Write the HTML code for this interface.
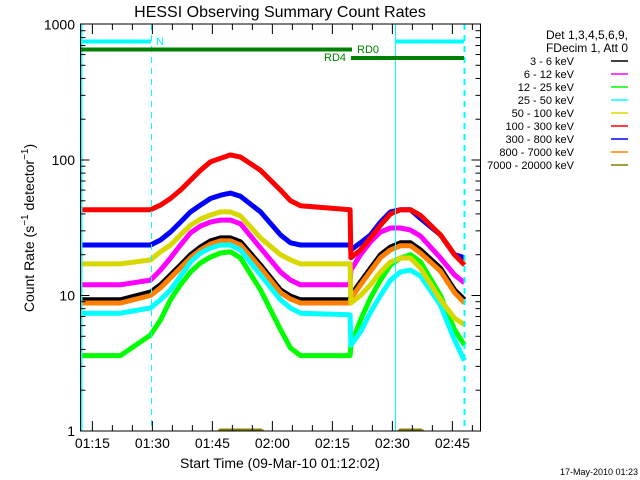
<!DOCTYPE html>
<html><head><meta charset="utf-8">
<style>
body{margin:0;background:#fff;}
svg{display:block;font-family:"Liberation Sans",sans-serif;}
</style></head><body>
<svg id="chart" width="640" height="480" viewBox="0 0 640 480" xmlns="http://www.w3.org/2000/svg">
<rect x="0" y="0" width="640" height="480" fill="#fff"/>
<text x="280" y="17" font-size="16" text-anchor="middle">HESSI Observing Summary Count Rates</text>
<text x="280" y="468" font-size="14" text-anchor="middle">Start Time (09-Mar-10 01:12:02)</text>
<text transform="translate(34,228) rotate(-90)" font-size="14" text-anchor="middle">Count Rate (s<tspan font-size="10" dy="-6">−1</tspan><tspan dy="6"> detector</tspan><tspan font-size="10" dy="-6">−1</tspan><tspan dy="6">)</tspan></text>
<text x="638" y="475" font-size="9" text-anchor="end">17-May-2010 01:23</text>
<defs><clipPath id="pc"><rect x="80.5" y="24" width="400" height="407"/></clipPath></defs>
<g id="series" clip-path="url(#pc)"></g>
<g id="overlays"></g>
<g id="axes"></g>
<g id="legend"></g>
</svg>
<script>
// time in minutes after 01:12:02
const times = [0,10,17.5,20,22.5,25,27.5,30,32.5,35,37.5,40,45,50,52.5,55,67.4,67.6,70,72.5,75,77.5,80,82.5,85,90,93.5,96];
const s3_6 = [9.3,9.3,10.6,12,14.2,16.8,20,22.8,25.3,26.6,26.6,24.9,16.8,11,9.9,9.3,9.3,10,12.6,15.9,20,22.8,24.5,24.5,21.7,15.9,11,9.3];
const s6_12 = [12,12,13,15.4,18.9,23.6,29,32.6,34.8,36,36,33.8,22.4,14.9,13,12,12,15.4,20,24.9,29.4,31.5,31.5,30.4,27.5,18.9,14.2,12.4];
const s12_25 = [3.6,3.6,5.1,6.6,9.3,12,14.9,17.4,19.2,20.6,21,18.9,11,5.6,4.1,3.6,3.6,4.3,6.6,9.6,13,16.8,18.9,20,17.7,10,5.6,4.3];
const s25_50 = [7.4,7.4,8.1,9.3,11,13.9,17.7,20.6,22.4,23.6,23.6,21.7,14.2,9.3,8.1,7.4,7.2,4.3,5.4,7.5,10,13,14.9,15.4,13.9,8.5,4.7,3.3];
const s50_100 = [17.1,17.1,18.3,21,23.6,28,33,36.6,39.3,41.4,41.4,38.6,26.6,20,18.3,17.1,17.1,8.8,10,12,14.9,17.7,18.9,18.9,15.9,9.3,6.8,6.1];
const s100_300 = [43,43,43,46.5,52,60,71,84,97,103,109,105,84,60,50,46,43,19,21.7,26.6,33,40,43,43,39,28,20,16.8];
const s300_800 = [23.6,23.6,23.6,25.7,29.4,34.8,41.4,46.5,52,55,57,54,41.4,28,24.5,23.6,23.6,21.7,24.5,28,34.8,41.4,43,43,37,28,20,19];
const s800_7000 = [8.8,8.8,10,11.4,13.5,16,19,21.7,24,25.3,25.3,23.6,16,10.5,9.4,8.8,8.8,9.5,12,15.1,19,21.7,23.3,23.3,20.6,15.1,10.5,8.8];
const s7000_20000 = [0.8,0.8,0.8,0.8,0.8,0.8,0.8,0.8,0.8,1,1,1,1,0.8,0.8,0.8,0.8,0.8,0.8,0.8,0.8,0.8,1,1,1,0.8,0.8,0.8];
const legendLabels = ["3 - 6 keV","6 - 12 keV","12 - 25 keV","25 - 50 keV","50 - 100 keV","100 - 300 keV","300 - 800 keV","800 - 7000 keV","7000 - 20000 keV"];
const yTickValues = [1,10,100,1000];
const yTickLabels = ["1","10","100","1000"];
const xTickMinutes = [2.97,17.97,32.97,47.97,62.97,77.97,92.97];
const xTickLabels = ["01:15","01:30","01:45","02:00","02:15","02:30","02:45"];

const NS="http://www.w3.org/2000/svg";
const X0=80.5, X1=480.5, YB=431, DEC=135.5;
function xs(t){return X0+4*t;}
function ys(v){return YB-DEC*Math.log10(v);}
function mk(tag,attrs,parent){const e=document.createElementNS(NS,tag);for(const k in attrs)e.setAttribute(k,attrs[k]);parent.appendChild(e);return e;}

const seriesList=[
 {d:s3_6,c:"#000000",n:"series-3-6-kev"},
 {d:s800_7000,c:"#ff8000",n:"series-800-7000-kev"},
 {d:s7000_20000,c:"#808000",n:"series-7000-20000-kev"},
 {d:s12_25,c:"#00ff00",n:"series-12-25-kev"},
 {d:s25_50,c:"#00ffff",n:"series-25-50-kev"},
 {d:s6_12,c:"#ff00ff",n:"series-6-12-kev"},
 {d:s50_100,c:"#d8d800",n:"series-50-100-kev"},
 {d:s300_800,c:"#0000ff",n:"series-300-800-kev"},
 {d:s100_300,c:"#ff0000",n:"series-100-300-kev"}
];
const sg=document.getElementById('series');
seriesList.forEach(s=>{
  const pts=s.d.map((v,i)=>xs(times[i]).toFixed(1)+","+ys(v).toFixed(1)).join(" ");
  const p=mk('polyline',{points:pts,fill:"none",stroke:s.c,"stroke-width":5,"stroke-linejoin":"round"},sg);
  
  
});

const og=document.getElementById('overlays');
function line(x1,y1,x2,y2,c,w,dash,name){const l=mk('line',{x1:x1,y1:y1,x2:x2,y2:y2,stroke:c,"stroke-width":w},og);if(dash)l.setAttribute('stroke-dasharray',dash);return l;}
line(81.5,24,81.5,431,"#00ffff",2,null,"night-start-line");
line(151.5,24,151.5,431,"#00ffff",1,"6,5","night-end-line");
line(395.5,24,395.5,431,"#00ffff",1,null,"night-start-line-2");
line(464.5,24,464.5,431,"#00ffff",2,"6,5","night-end-line-2");
line(81,41.5,151,41.5,"#00ffff",4,null,"night-bar");
line(396,41.5,464,41.5,"#00ffff",4,null,"night-bar-2");
line(81,49.5,352,49.5,"#008000",4,null,"rd0-bar");
line(351,58,464,58,"#008000",4,null,"rd4-bar");
function txt(x,y,s,c,fs,anchor,name){const t=mk('text',{x:x,y:y,fill:c,"font-size":fs,"text-anchor":anchor||"start"},og);t.textContent=s;return t;}
txt(156,45,"N","#00ffff",11,"start","night-label");
txt(357,53,"RD0","#008000",11,"start","rd0-label");
txt(324,61,"RD4","#008000",11,"start","rd4-label");

const ag=document.getElementById('axes');
const fr=mk('rect',{x:X0,y:24,width:X1-X0,height:YB-24,fill:"none",stroke:"#000","stroke-width":1},ag);


for(let d=0;d<3;d++){for(let m=1;m<=9;m++){const v=Math.pow(10,d)*m;const y=ys(v);const L=(m===1)?9:5;
  const t1=mk('line',{x1:X0,y1:y,x2:X0+L,y2:y,stroke:"#000"},ag);
  const t2=mk('line',{x1:X1,y1:y,x2:X1-L,y2:y,stroke:"#000"},ag);}}
yTickValues.forEach((v,i)=>{const t=mk('text',{x:75,y:ys(v)+5,"font-size":14,"text-anchor":"end"},ag);t.textContent=yTickLabels[i];});
for(let t=2.97;t<100;t+=5){const x=xs(t);if(x>X1)break;const major=xTickMinutes.some(m=>Math.abs(m-t)<0.01);const L=major?10:6;
  const a=mk('line',{x1:x,y1:YB,x2:x,y2:YB-L,stroke:"#000"},ag);
  const b=mk('line',{x1:x,y1:24,x2:x,y2:24+L,stroke:"#000"},ag);}
xTickMinutes.forEach((m,i)=>{const t=mk('text',{x:xs(m),y:448,"font-size":14,"text-anchor":"middle"},ag);t.textContent=xTickLabels[i];});

const lg=document.getElementById('legend');
const legColors=["#000000","#ff00ff","#00ff00","#00ffff","#d8d800","#ff0000","#0000ff","#ff8000","#808000"];
[["Det 1,3,4,5,6,9,",39],["FDecim 1, Att 0",52]].forEach(h=>{const t=mk('text',{x:628,y:h[1],"font-size":12,"text-anchor":"end"},lg);t.textContent=h[0];});
legendLabels.forEach((s,i)=>{const y=61+13*i;
  const t=mk('text',{x:574,y:y+4,"font-size":11,"text-anchor":"end"},lg);t.textContent=s;
  
  
  const l=mk('line',{x1:611,y1:y,x2:628,y2:y,stroke:legColors[i],"stroke-width":1.5},lg);
  
  
});
</script>
</body></html>
